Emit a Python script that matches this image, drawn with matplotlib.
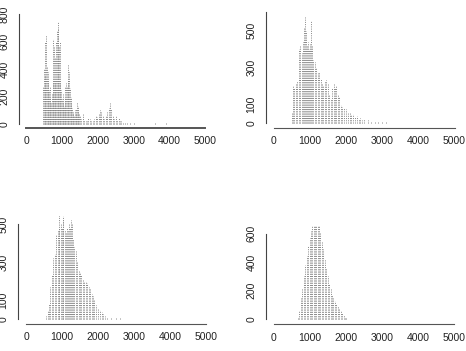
import matplotlib
matplotlib.use("Agg")
import matplotlib.pyplot as plt

plt.rcParams['font.family'] = ['Liberation Sans', 'DejaVu Sans']

# -------- data --------
x1 = [480, 500, 520, 540, 560, 580, 600, 620, 640, 660, 680, 700, 720, 740, 760,
      780, 800, 820, 840, 860, 880, 900, 920, 940, 960, 980, 1000, 1020, 1040,
      1060, 1080, 1100, 1120, 1140, 1160, 1180, 1200, 1220, 1240, 1260, 1280,
      1300, 1320, 1340, 1360, 1380, 1400, 1420, 1440, 1460, 1480, 1500, 1540,
      1580, 1620, 1660, 1700, 1740, 1780, 1820, 1860, 1900, 1940, 1980, 2020,
      2060, 2100, 2140, 2180, 2220, 2260, 2300, 2340, 2380, 2420, 2460, 2500,
      2540, 2580, 2620, 2660, 2700, 2760, 2820, 2900, 3000, 3600, 3900]
h1 = [280, 400, 350, 600, 650, 420, 300, 380, 250, 200, 280, 150, 220, 300, 620,
      560, 480, 300, 600, 680, 740, 700, 560, 600, 300, 250, 180, 150, 220,
      130, 200, 280, 300, 270, 330, 440, 380, 260, 150, 200, 120,
      90, 70, 60, 100, 80, 110, 160, 130, 90, 80, 60, 40,
      70, 30, 25, 20, 45, 35, 20, 25, 40, 60, 50, 70,
      100, 85, 60, 40, 55, 90, 120, 150, 110, 60, 40, 55,
      30, 45, 20, 25, 15, 10, 12, 8, 5, 8, 10]

x2 = [500, 540, 580, 620, 660, 700, 740, 780, 820, 850, 870, 890, 920, 950, 980,
      1010, 1045, 1070, 1100, 1140, 1180, 1220, 1260, 1300, 1340, 1380, 1420,
      1460, 1500, 1540, 1580, 1620, 1660, 1700, 1740, 1780, 1820, 1860, 1900,
      1950, 2000, 2050, 2100, 2150, 2200, 2250, 2300, 2350, 2400, 2450, 2500,
      2600, 2700, 2800, 2900, 3000, 3100, 3200]
h2 = [60, 200, 190, 210, 230, 400, 420, 380, 440, 520, 575, 500, 420, 440, 400,
      430, 555, 420, 340, 330, 300, 270, 280, 240, 220, 200, 230,
      235, 210, 160, 130, 190, 210, 190, 200, 160, 140, 100, 90,
      80, 75, 60, 55, 45, 50, 35, 40, 25, 30, 20, 22,
      18, 12, 10, 8, 6, 5, 4]

x3 = [560, 600, 640, 680, 720, 760, 800, 840, 880, 910, 930, 960, 990, 1020,
      1040, 1070, 1100, 1130, 1160, 1190, 1220, 1250, 1280, 1310, 1340, 1380,
      1420, 1460, 1500, 1540, 1580, 1620, 1660, 1700, 1740, 1780, 1820, 1860,
      1900, 1950, 2000, 2050, 2100, 2150, 2200, 2250, 2350, 2500, 2600]
h3 = [15, 40, 80, 170, 230, 320, 340, 440, 470, 480, 565, 500, 480, 520,
      540, 470, 450, 480, 470, 500, 480, 520, 500, 420, 380, 360,
      300, 260, 250, 230, 210, 200, 195, 190, 170, 160, 130, 120,
      100, 75, 55, 45, 35, 25, 15, 12, 8, 5, 4]

x4 = [680, 720, 760, 800, 840, 880, 920, 960, 1000, 1040, 1080, 1120, 1160,
      1190, 1220, 1260, 1300, 1340, 1380, 1420, 1460, 1500, 1540, 1580, 1620,
      1660, 1700, 1740, 1780, 1820, 1860, 1900, 1940, 1980, 2020]
h4 = [10, 60, 150, 220, 300, 380, 440, 510, 570, 620, 660, 700, 730,
      745, 720, 660, 610, 550, 490, 420, 360, 300, 250, 210, 170,
      150, 125, 110, 95, 75, 60, 45, 30, 15, 6]

x_ticks = [0, 1000, 2000, 3000, 4000, 5000]
y_ticks = [[0, 200, 400, 600, 800], [0, 100, 300, 500],
           [0, 100, 300, 500], [0, 200, 400, 600]]
y_tops = [800, 600, 500, 600]

# pixel layout: x=0 px, x=5000 px, y=0 px, y=top px, bottom spine px, left spine px
layout = [
    (26.0, 205.5, 124.0, 14.0, 127.7, 19.3),
    (273.5, 454.5, 123.3, 12.3, 127.7, 266.0),
    (26.0, 206.0, 319.0, 224.0, 324.0, 18.3),
    (273.5, 454.0, 319.3, 233.5, 324.3, 266.0),
]

W, H = 466, 351
fig = plt.figure(figsize=(W / 100, H / 100), dpi=100)

series = [(x1, h1), (x2, h2), (x3, h3), (x4, h4)]

for i, ((xs, hs), (x0, x5, y0, yt, yb, xl)) in enumerate(zip(series, layout)):
    sx = (x5 - x0) / 5000.0
    sy = (y0 - yt) / y_tops[i]
    right_px = x5 + 8
    top_px = yt - 8
    ax = fig.add_axes([xl / W, 1 - yb / H, (right_px - xl) / W, (yb - top_px) / H])
    ax.set_xlim((xl - x0) / sx, (right_px - x0) / sx)
    ax.set_ylim((y0 - yb) / sy, (y0 - top_px) / sy)

    ax.vlines(xs, 0, hs, colors="#858585", linewidth=0.7,
              linestyles=(0, (1, 1.3)))

    for s in ["top", "right"]:
        ax.spines[s].set_visible(False)
    ax.spines["left"].set_bounds(0, y_tops[i])
    ax.spines["bottom"].set_bounds(0, 5000)
    ax.spines["left"].set_color("#444444")
    ax.spines["bottom"].set_color("#555555")
    ax.spines["left"].set_linewidth(0.8)
    ax.spines["bottom"].set_linewidth(1.4 if i == 0 else 0.8)

    ax.set_xticks(x_ticks)
    ax.set_xticklabels([str(t) for t in x_ticks])
    ax.set_yticks(y_ticks[i])
    ax.set_yticklabels([str(t) for t in y_ticks[i]])
    ax.tick_params(axis="both", length=0, labelsize=7.5, labelcolor="#222222")
    ax.tick_params(axis="x", pad=6)
    ax.tick_params(axis="y", pad=7, labelrotation=90)
    for lab in ax.get_yticklabels():
        lab.set_va("center")

fig.savefig("out.png", dpi=100)
